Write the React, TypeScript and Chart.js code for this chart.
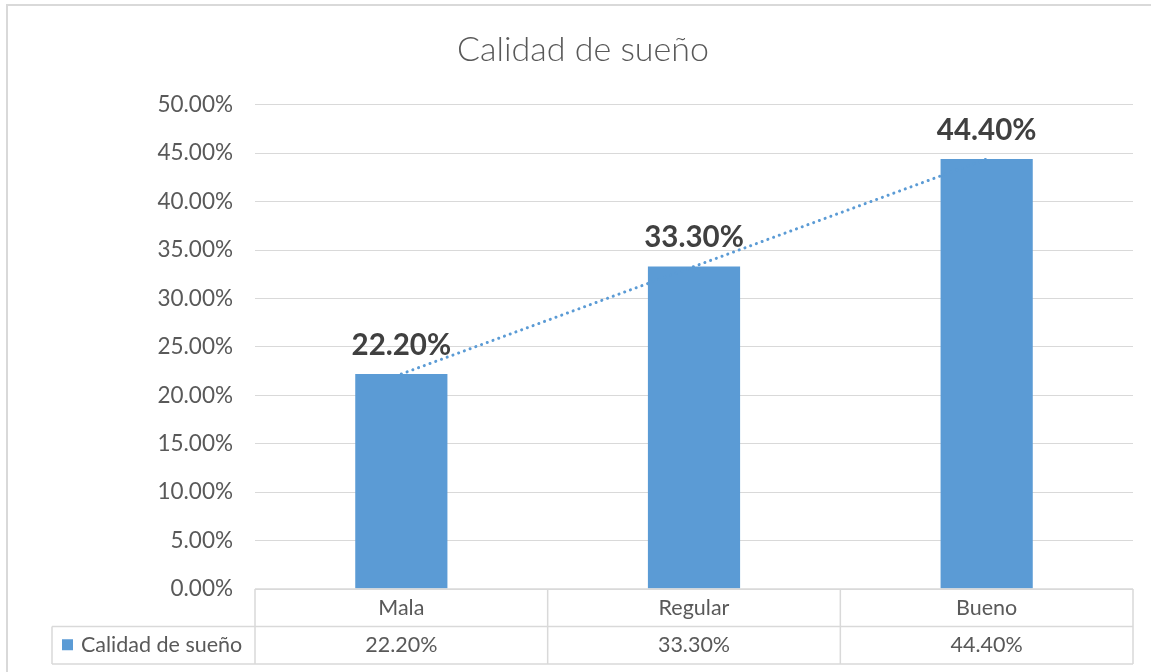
import { useEffect, useRef } from "react";
import { Chart, registerables } from "chart.js";

Chart.register(...registerables);

const title = "Calidad de sueño";
const seriesName = "Calidad de sueño";
const categories = ["Mala", "Regular", "Bueno"];
const values = [22.2, 33.3, 44.4];
const yMin = 0;
const yMax = 50;
const yStep = 5;

const BAR_COLOR = "#5B9BD5";
const TEXT_COLOR = "#595959";
const LABEL_COLOR = "#404040";
const GRID_COLOR = "#D9D9D9";
const FONT = "Lato, 'Noto Sans', sans-serif";

function linearTrend(v: number[]): number[] {
  const n = v.length;
  const xs = v.map((_, i) => i + 1);
  const mx = xs.reduce((a, b) => a + b, 0) / n;
  const my = v.reduce((a, b) => a + b, 0) / n;
  let num = 0;
  let den = 0;
  for (let i = 0; i < n; i++) {
    num += (xs[i] - mx) * (v[i] - my);
    den += (xs[i] - mx) * (xs[i] - mx);
  }
  const slope = den ? num / den : 0;
  const icpt = my - slope * mx;
  return xs.map((x) => icpt + slope * x);
}

const fmt = (v: number) => v.toFixed(2) + "%";

const framePlugin = {
  id: "frame",
  beforeDraw(chart: any) {
    const { ctx, width, height } = chart;
    ctx.save();
    ctx.fillStyle = "#ffffff";
    ctx.fillRect(0, 0, width, height);
    ctx.strokeStyle = GRID_COLOR;
    ctx.lineWidth = 2;
    ctx.beginPath();
    ctx.moveTo(7, height);
    ctx.lineTo(7, 5);
    ctx.lineTo(width, 5);
    ctx.stroke();
    ctx.restore();
  },
};

const labelsPlugin = {
  id: "barLabels",
  afterDraw(chart: any) {
    const { ctx } = chart;
    const meta = chart.getDatasetMeta(0);
    ctx.save();
    ctx.font = `bold 29.5px ${FONT}`;
    ctx.fillStyle = LABEL_COLOR;
    ctx.textAlign = "center";
    ctx.textBaseline = "middle";
    meta.data.forEach((el: any, i: number) => {
      ctx.fillText(fmt(values[i]), el.x, el.y - 29);
    });
    ctx.restore();
  },
};

const tablePlugin = {
  id: "dataTable",
  afterDraw(chart: any) {
    const { ctx, chartArea } = chart;
    const xs = chart.scales.x;
    const left = chartArea.left;
    const right = chartArea.right;
    const top = chartArea.bottom;
    const rowH = 37.5;
    const mid = top + rowH;
    const bottom = top + rowH * 2;
    const tableLeft = 52;
    const colW = (right - left) / categories.length;
    ctx.save();
    ctx.strokeStyle = GRID_COLOR;
    ctx.lineWidth = 1.5;
    ctx.beginPath();
    ctx.moveTo(left, top);
    ctx.lineTo(right, top);
    ctx.moveTo(tableLeft, mid);
    ctx.lineTo(right, mid);
    ctx.moveTo(tableLeft, bottom);
    ctx.lineTo(right, bottom);
    ctx.moveTo(tableLeft, mid);
    ctx.lineTo(tableLeft, bottom);
    for (let i = 0; i <= categories.length; i++) {
      const x = left + colW * i;
      ctx.moveTo(x, top);
      ctx.lineTo(x, bottom);
    }
    ctx.stroke();

    ctx.font = `21.5px ${FONT}`;
    ctx.fillStyle = TEXT_COLOR;
    ctx.textAlign = "center";
    ctx.textBaseline = "middle";
    categories.forEach((c, i) => {
      const cx = xs.getPixelForValue(i);
      ctx.fillText(c, cx, top + rowH / 2);
      ctx.fillText(fmt(values[i]), cx, mid + rowH / 2);
    });

    ctx.fillStyle = BAR_COLOR;
    ctx.fillRect(62, mid + rowH / 2 - 6, 11, 11);
    ctx.fillStyle = TEXT_COLOR;
    ctx.textAlign = "left";
    ctx.fillText(seriesName, 81, mid + rowH / 2);
    ctx.restore();
  },
};

export default function App() {
  const ref = useRef<HTMLCanvasElement | null>(null);

  useEffect(() => {
    document.body.style.margin = "0";
    if (!ref.current) return;
    const trend = linearTrend(values);
    const chart = new Chart(ref.current, {
      type: "bar",
      data: {
        labels: categories,
        datasets: [
          {
            type: "bar",
            label: seriesName,
            data: values,
            backgroundColor: BAR_COLOR,
            borderWidth: 0,
            categoryPercentage: 1,
            barPercentage: 0.315,
            order: 1,
          },
          {
            type: "line",
            label: "Lineal (" + seriesName + ")",
            data: trend,
            borderColor: BAR_COLOR,
            borderWidth: 3,
            borderDash: [0.1, 6],
            borderCapStyle: "round",
            pointRadius: 0,
            fill: false,
            order: 0,
          } as any,
        ],
      },
      options: {
        responsive: false,
        animation: false,
        devicePixelRatio: 1,
        layout: { padding: { left: 33, right: 18, top: 0, bottom: 83 } },
        plugins: {
          legend: { display: false },
          tooltip: { enabled: false },
          title: {
            display: true,
            text: title,
            color: TEXT_COLOR,
            font: { family: FONT, size: 34, weight: "300" },
            padding: { top: 30, bottom: 34 },
          },
        },
        scales: {
          x: { display: false },
          y: {
            min: yMin,
            max: yMax,
            border: { display: false },
            grid: { color: GRID_COLOR, lineWidth: 1, drawTicks: false },
            ticks: {
              stepSize: yStep,
              padding: 22,
              color: TEXT_COLOR,
              font: { family: FONT, size: 22.5 },
              callback: (v: any) => fmt(Number(v)),
            },
            afterFit: (scale: any) => {
              scale.width = 222;
            },
          },
        },
      },
      plugins: [framePlugin, labelsPlugin, tablePlugin],
    });
    return () => chart.destroy();
  }, []);

  return (
    <div style={{ width: 1151, height: 672 }}>
      <canvas ref={ref} width={1151} height={672} />
    </div>
  );
}
